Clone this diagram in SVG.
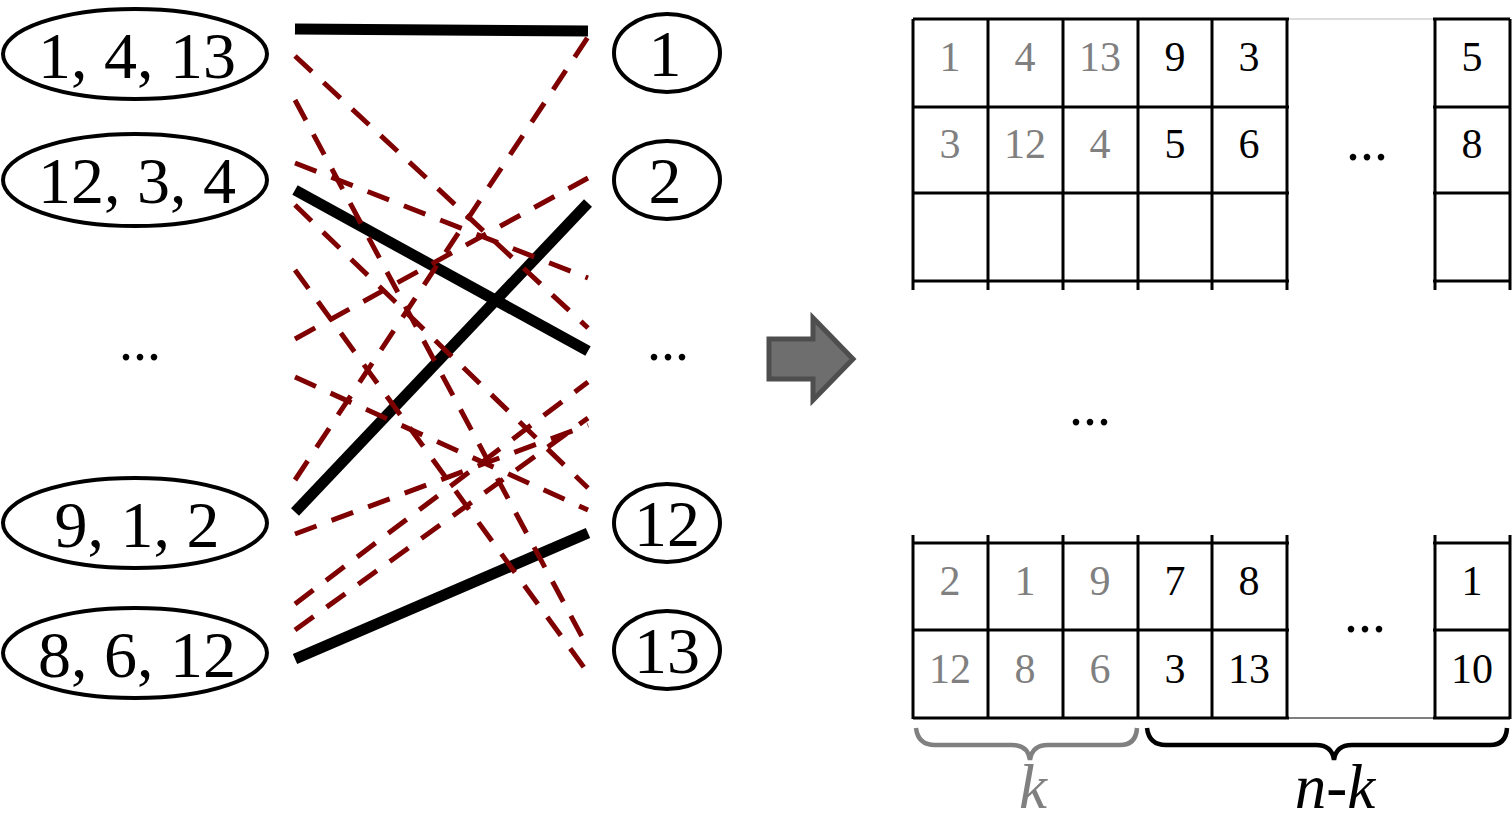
<svg xmlns="http://www.w3.org/2000/svg" width="1512" height="822" viewBox="0 0 1512 822">
<style>
.t{font-family:"Liberation Serif","Times New Roman",serif;text-anchor:middle;fill:#000}
.big{font-size:66px}
.cell{font-size:42px}
.dots{font-size:56px}
.g{fill:#808080}
.node{fill:#fff;stroke:#000;stroke-width:4}
.solid{stroke:#000;stroke-width:11;fill:none}
.dash{stroke:#7f0000;stroke-width:5;stroke-dasharray:23 16;fill:none}
.grid{stroke:#000;stroke-width:3;fill:none}
.lab{font-size:63px;font-style:italic}
</style>
<rect width="1512" height="822" fill="#fff"/>
<g id="connectors">
<line class="solid" x1="295" y1="29" x2="588" y2="31"/>
<line class="solid" x1="295" y1="190" x2="588" y2="351"/>
<line class="solid" x1="295" y1="512" x2="588" y2="203"/>
<line class="solid" x1="295" y1="659" x2="588" y2="533"/>
<line class="dash" x1="295" y1="56" x2="588" y2="328"/>
<line class="dash" x1="295" y1="100" x2="588" y2="648"/>
<line class="dash" x1="295" y1="163" x2="588" y2="278"/>
<line class="dash" x1="295" y1="205" x2="588" y2="488"/>
<line class="dash" x1="295" y1="270" x2="588" y2="673"/>
<line class="dash" x1="295" y1="339" x2="588" y2="178"/>
<line class="dash" x1="295" y1="377" x2="588" y2="510"/>
<line class="dash" x1="295" y1="480" x2="588" y2="37"/>
<line class="dash" x1="295" y1="534" x2="588" y2="425"/>
<line class="dash" x1="295" y1="604" x2="588" y2="382"/>
<line class="dash" x1="295" y1="630" x2="588" y2="418"/>
</g>
<g id="left-1-4-13"><ellipse class="node" cx="135" cy="54" rx="132" ry="45"/><text class="t big" x="137" y="78">1, 4, 13</text></g>
<g id="left-12-3-4"><ellipse class="node" cx="135" cy="180" rx="132" ry="46"/><text class="t big" x="137" y="203">12, 3, 4</text></g>
<g id="left-dots"><text class="t dots" x="140" y="360">...</text></g>
<g id="left-9-1-2"><ellipse class="node" cx="135" cy="523" rx="132" ry="45"/><text class="t big" x="137" y="547">9, 1, 2</text></g>
<g id="left-8-6-12"><ellipse class="node" cx="135" cy="653" rx="132" ry="45"/><text class="t big" x="137" y="677">8, 6, 12</text></g>
<g id="right-1"><ellipse class="node" cx="667" cy="53" rx="53" ry="39"/><text class="t big" x="665" y="76">1</text></g>
<g id="right-2"><ellipse class="node" cx="667" cy="180" rx="53" ry="39"/><text class="t big" x="665" y="203">2</text></g>
<g id="right-dots"><text class="t dots" x="668" y="360">...</text></g>
<g id="right-12"><ellipse class="node" cx="667" cy="523" rx="53" ry="39"/><text class="t big" x="667" y="546">12</text></g>
<g id="right-13"><ellipse class="node" cx="667" cy="650" rx="53" ry="39"/><text class="t big" x="667" y="673">13</text></g>
<g id="arrow"><path d="M769,339 H813 V318 L853,359 L813,400 V379 H769 Z" fill="#6e6e6e" stroke="#4e4e4e" stroke-width="5" stroke-linejoin="miter"/></g>
<g id="table-top">
<path class="grid" d="M913,19 H1289 M1433,19 H1510 M913,107 H1289 M1433,107 H1510 M913,193 H1289 M1433,193 H1510 M913,281 H1289 M1433,281 H1510"/>
<path class="grid" d="M913,19 V290 M988,19 V290 M1063,19 V290 M1138,19 V290 M1212,19 V290 M1287,19 V290 M1435,19 V290 M1510,19 V290"/>
<line x1="1289" y1="19" x2="1433" y2="19" stroke="#d0d0d0" stroke-width="1.5"/>
<text class="t cell g" x="950" y="71">1</text><text class="t cell g" x="1025" y="71">4</text><text class="t cell g" x="1100" y="71">13</text>
<text class="t cell" x="1175" y="71">9</text><text class="t cell" x="1249" y="71">3</text><text class="t cell" x="1472" y="71">5</text>
<text class="t cell g" x="950" y="158">3</text><text class="t cell g" x="1025" y="158">12</text><text class="t cell g" x="1100" y="158">4</text>
<text class="t cell" x="1175" y="158">5</text><text class="t cell" x="1249" y="158">6</text><text class="t cell" x="1472" y="158">8</text>
<text class="t dots" x="1367" y="160">...</text>
</g>
<g id="middle-dots"><text class="t dots" x="1090" y="425">...</text></g>
<g id="table-bottom">
<path class="grid" d="M913,543 H1289 M1433,543 H1510 M913,630 H1289 M1433,630 H1510 M913,718 H1289 M1433,718 H1510"/>
<line x1="1289" y1="718" x2="1433" y2="718" stroke="#555" stroke-width="1.5"/>
<path class="grid" d="M913,535 V719 M988,535 V719 M1063,535 V719 M1138,535 V719 M1212,535 V719 M1287,535 V719 M1435,535 V719 M1510,535 V719"/>
<text class="t cell g" x="950" y="595">2</text><text class="t cell g" x="1025" y="595">1</text><text class="t cell g" x="1100" y="595">9</text>
<text class="t cell" x="1175" y="595">7</text><text class="t cell" x="1249" y="595">8</text><text class="t cell" x="1472" y="595">1</text>
<text class="t cell g" x="950" y="683">12</text><text class="t cell g" x="1025" y="683">8</text><text class="t cell g" x="1100" y="683">6</text>
<text class="t cell" x="1175" y="683">3</text><text class="t cell" x="1249" y="683">13</text><text class="t cell" x="1472" y="683">10</text>
<text class="t dots" x="1365" y="632">...</text>
</g>
<g id="brace-k">
<path d="M916,728 Q918,745 935,745 H1012 Q1028,745 1030,760 Q1032,745 1048,745 H1120 Q1136,745 1137,728" fill="none" stroke="#808080" stroke-width="4.5"/>
<text class="t g lab" x="1033" y="808">k</text>
</g>
<g id="brace-nk">
<path d="M1147,728 Q1149,745 1166,745 H1316 Q1332,745 1334,760 Q1336,745 1352,745 H1490 Q1506,745 1507,728" fill="none" stroke="#000" stroke-width="4.5"/>
<text class="t lab" x="1335" y="808">n-k</text>
</g>
</svg>
